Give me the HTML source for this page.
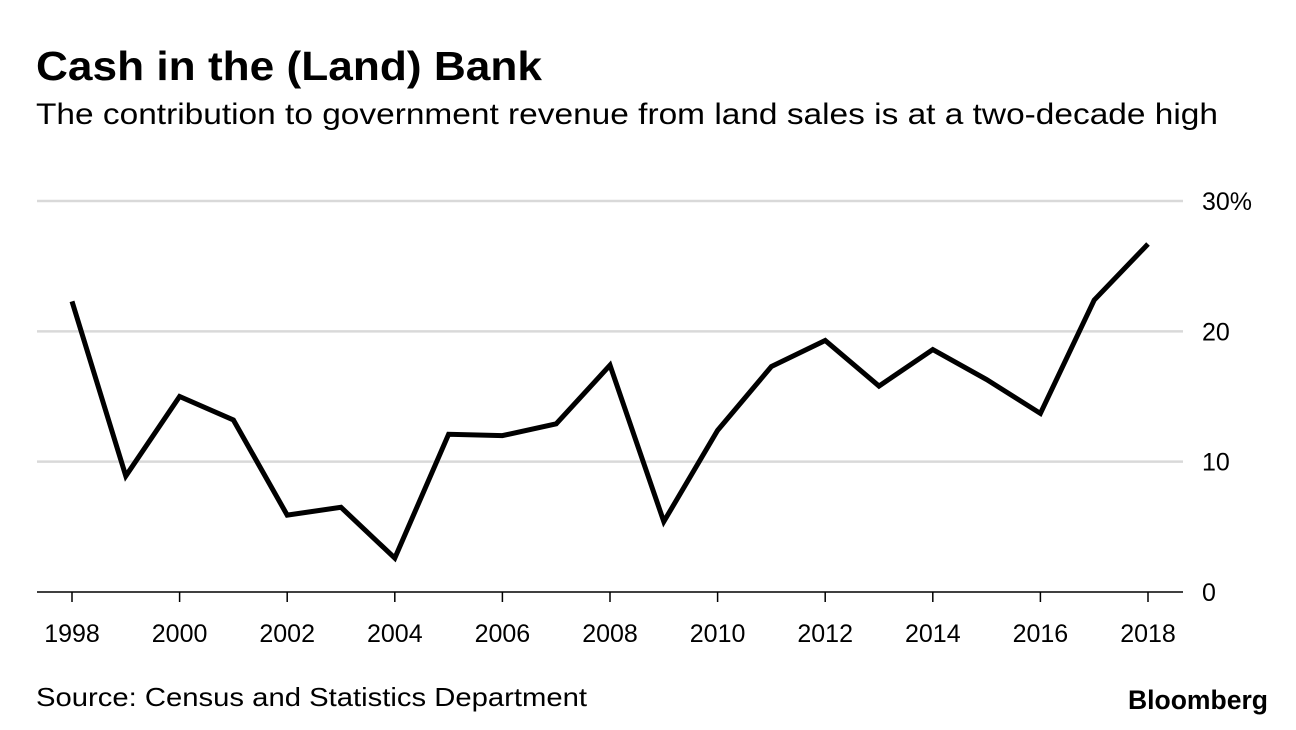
<!DOCTYPE html>
<html><head><meta charset="utf-8"><style>
body{margin:0;background:#fff;font-family:"Liberation Sans",Arial,sans-serif;}
#wrap{position:relative;width:1296px;height:730px;overflow:hidden;}
</style></head><body>
<div id="wrap">
<svg id="chart" width="1296" height="730">
<text x="36" y="80" font-size="41" font-weight="bold" fill="#000" textLength="506" lengthAdjust="spacingAndGlyphs">Cash in the (Land) Bank</text>
<text x="36" y="124" font-size="30" fill="#000" textLength="1182" lengthAdjust="spacingAndGlyphs">The contribution to government revenue from land sales is at a two-decade high</text>
<text x="36" y="706" font-size="26" fill="#000" textLength="551" lengthAdjust="spacingAndGlyphs">Source: Census and Statistics Department</text>
<text x="1128" y="709" font-size="27" font-weight="bold" fill="#000" textLength="140" lengthAdjust="spacingAndGlyphs">Bloomberg</text>
<g id="grid"></g><g id="axes"></g><g id="series"></g>
</svg>
</div>
<script>
const years=[1998,1999,2000,2001,2002,2003,2004,2005,2006,2007,2008,2009,2010,2011,2012,2013,2014,2015,2016,2017,2018];
const values=[22.3,8.9,15.0,13.2,5.9,6.5,2.6,12.1,12.0,12.9,17.4,5.4,12.4,17.3,19.3,15.8,18.6,16.3,13.7,22.4,26.7];
const yTicks=[0,10,20,30];
const yTickLabels=["0","10","20","30%"];
const xTicks=[1998,2000,2002,2004,2006,2008,2010,2012,2014,2016,2018];
const NS="http://www.w3.org/2000/svg";
const x=v=>72+(v-1998)*(1148-72)/20;
const y=v=>592-v*(592-201)/30;
const grid=document.getElementById('grid'),axes=document.getElementById('axes'),series=document.getElementById('series');
yTicks.forEach((t,i)=>{
 const l=document.createElementNS(NS,'line');
 
 
 l.setAttribute('x1',37);l.setAttribute('x2',1183);l.setAttribute('y1',y(t));l.setAttribute('y2',y(t));
 l.setAttribute('stroke',t===0?'#000':'#d9d9d9');l.setAttribute('stroke-width',t===0?1.5:2.5);
 grid.appendChild(l);
 const tx=document.createElementNS(NS,'text');
 
 
 tx.setAttribute('x',1202);tx.setAttribute('y',y(t)+9);tx.setAttribute('font-size','25');
 tx.textContent=yTickLabels[i];axes.appendChild(tx);
});
xTicks.forEach(t=>{
 const l=document.createElementNS(NS,'line');
 
 
 l.setAttribute('x1',x(t));l.setAttribute('x2',x(t));l.setAttribute('y1',592);l.setAttribute('y2',602);
 l.setAttribute('stroke','#000');l.setAttribute('stroke-width',1.5);axes.appendChild(l);
 const tx=document.createElementNS(NS,'text');
 
 
 tx.setAttribute('x',x(t));tx.setAttribute('y',642);tx.setAttribute('font-size','25');tx.setAttribute('text-anchor','middle');
 tx.textContent=t;axes.appendChild(tx);
});
const p=document.createElementNS(NS,'polyline');


p.setAttribute('points',years.map((yr,i)=>x(yr)+','+y(values[i])).join(' '));
p.setAttribute('fill','none');p.setAttribute('stroke','#000');p.setAttribute('stroke-width',5);p.setAttribute('stroke-linejoin','miter');
series.appendChild(p);
</script>
</body></html>
